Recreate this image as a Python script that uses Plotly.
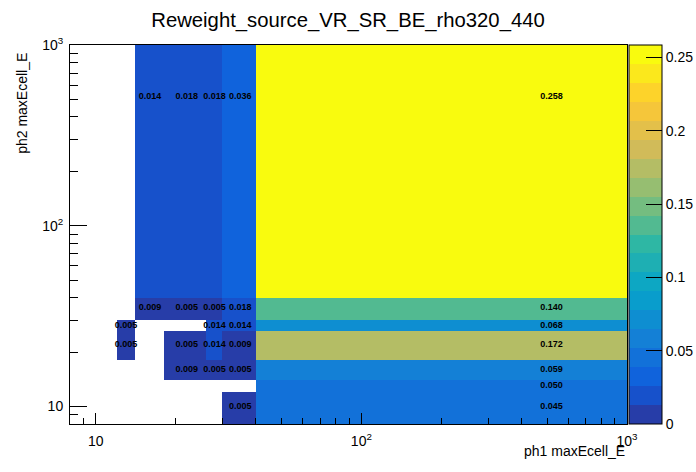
import numpy as np
import plotly.graph_objects as go

# ---- data ----
x_edges = [8, 12, 14, 18, 26, 30, 40, 1000]
y_edges = [8, 12, 14, 18, 26, 30, 40, 1000]
# rows: y bins (bottom -> top), columns: x bins (left -> right); None = empty bin
row_8_12 = [None, None, None, None, None, 0.005, 0.045]
row_12_14 = [None, None, None, None, None, None, 0.050]
row_14_18 = [None, None, None, 0.009, 0.005, 0.005, 0.059]
row_18_26 = [None, 0.005, None, 0.005, 0.014, 0.009, 0.172]
row_26_30 = [None, 0.005, None, None, 0.014, 0.014, 0.068]
row_30_40 = [None, None, 0.009, 0.005, 0.005, 0.018, 0.140]
row_40_1000 = [None, None, 0.014, 0.018, 0.018, 0.036, 0.258]
z_rows = [row_8_12, row_12_14, row_14_18, row_18_26, row_26_30, row_30_40, row_40_1000]
cbar_ticks = [0, 0.05, 0.1, 0.15, 0.2, 0.25]
cbar_labels = ["0", "0.05", "0.1", "0.15", "0.2", "0.25"]
x_ticks = [10, 100, 1000]
x_ticklabels = ["10", "10<sup>2</sup>", "10<sup>3</sup>"]
y_ticks = [10, 100, 1000]
y_ticklabels = ["10", "10<sup>2</sup>", "10<sup>3</sup>"]
title = "Reweight_source_VR_SR_BE_rho320_440"
x_title = "ph1 maxEcell_E"
y_title = "ph2 maxEcell_E"

zmax = 0.2585
ncont = 20

# ---- kBird palette ----
stops = [0.0, 0.125, 0.25, 0.375, 0.5, 0.625, 0.75, 0.875, 1.0]
red = [0.2082, 0.0592, 0.0780, 0.0232, 0.1802, 0.5301, 0.8186, 0.9956, 0.9764]
green = [0.1664, 0.3599, 0.5041, 0.6419, 0.7178, 0.7492, 0.7328, 0.7862, 0.9832]
blue = [0.5293, 0.8684, 0.8385, 0.7914, 0.6425, 0.4662, 0.3499, 0.1968, 0.0539]

def bird(f):
    r = np.interp(f, stops, red)
    g = np.interp(f, stops, green)
    b = np.interp(f, stops, blue)
    return "rgb(%d,%d,%d)" % (round(r * 255), round(g * 255), round(b * 255))

colorscale = []
for i in range(ncont):
    k = int((i + 0.99) * 255 / ncont)
    c = bird(min(k / 254.0, 1.0))
    colorscale.append([i / ncont, c])
    colorscale.append([(i + 1) / ncont, c])

z = [[(np.nan if v is None else v) for v in row] for row in z_rows]

fig = go.Figure()
fig.add_trace(go.Heatmap(
    x=x_edges, y=y_edges, z=z,
    zmin=0, zmax=zmax, colorscale=colorscale,
    hoverongaps=False,
    colorbar=dict(
        x=1.0036, xanchor="left", xpad=0, y=0.5, yanchor="middle", ypad=0,
        len=1, thickness=33, outlinewidth=1, outlinecolor="black",
        tickmode="array", tickvals=cbar_ticks, ticktext=cbar_labels,
        ticks="inside", ticklen=16, tickcolor="black", tickwidth=1,
        tickfont=dict(family="Liberation Sans", size=14, color="black"),
    ),
))

# bin content texts at linear bin centres
tx, ty, tt = [], [], []
for j, row in enumerate(z_rows):
    for i, v in enumerate(row):
        if v is None:
            continue
        tx.append((x_edges[i] + x_edges[i + 1]) / 2)
        ty.append((y_edges[j] + y_edges[j + 1]) / 2)
        tt.append("%.3f" % v)
fig.add_trace(go.Scatter(
    x=tx, y=ty, text=tt, mode="text", hoverinfo="skip", showlegend=False,
    textfont=dict(family="Liberation Sans", size=9, color="black", weight="bold"),
))

minor_vals = [m * d for d in (1, 10, 100) for m in range(2, 10)] + [9]

axis_common = dict(
    type="log", showgrid=False, zeroline=False, automargin=False,
    showline=True, mirror=True, linecolor="black", linewidth=1,
    ticks="inside", tickcolor="black", tickwidth=1,
    tickfont=dict(family="Liberation Sans", size=14, color="black"),
)
fig.update_xaxes(
    **axis_common, range=[np.log10(8), 3],
    tickmode="array", tickvals=x_ticks, ticktext=x_ticklabels, ticklen=11,
    minor=dict(tickmode="array", tickvals=minor_vals, ticks="inside", ticklen=6,
               tickcolor="black", tickwidth=1, showgrid=False),
    ticklabelstandoff=4,
)
fig.update_yaxes(
    **axis_common, range=[np.log10(8), 3],
    tickmode="array", tickvals=y_ticks, ticktext=y_ticklabels, ticklen=17,
    minor=dict(tickmode="array", tickvals=minor_vals, ticks="inside", ticklen=8,
               tickcolor="black", tickwidth=1, showgrid=False),
    ticklabelstandoff=3,
)

fig.update_layout(
    width=696, height=472,
    margin=dict(l=70, r=69, t=44.5, b=47.7, pad=0, autoexpand=False),
    paper_bgcolor="white", plot_bgcolor="white",
    showlegend=False,
    title=dict(text=title, x=0.5, xanchor="center", y=1 - 20 / 472, yanchor="middle",
               yref="container",
               font=dict(family="Liberation Sans", size=20.3, color="black")),
    annotations=[
        dict(text=x_title, xref="paper", yref="paper", x=1.0, y=-0.070,
             xanchor="right", yanchor="middle", showarrow=False,
             font=dict(family="Liberation Sans", size=14, color="black")),
        dict(text=y_title, xref="paper", yref="paper", x=-0.085, y=0.985,
             xanchor="center", yanchor="top", textangle=-90, showarrow=False,
             font=dict(family="Liberation Sans", size=14, color="black")),
    ],
)

fig.write_html("out.html", config={"displayModeBar": False},
               post_script="document.body.style.margin='0px';")
